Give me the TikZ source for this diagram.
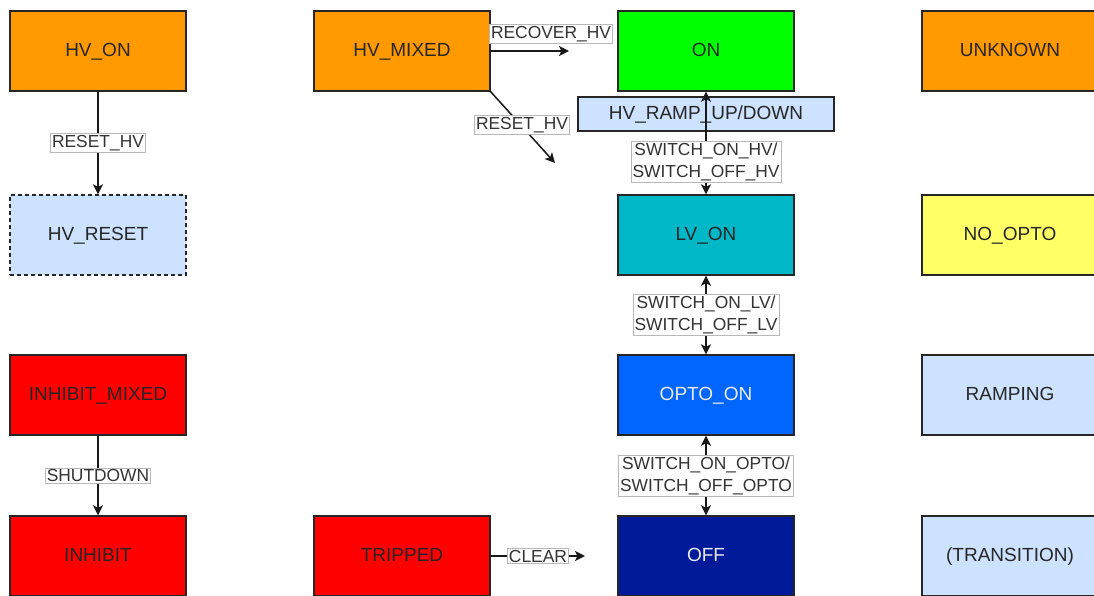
\documentclass[tikz,border=0pt]{standalone}
\usepackage{fontspec}
\setmainfont{Liberation Sans}
\usetikzlibrary{arrows.meta}

\definecolor{stOrange}{HTML}{FF9900}
\definecolor{stGreen}{HTML}{00FF00}
\definecolor{stTeal}{HTML}{00B8C8}
\definecolor{stYellow}{HTML}{FFFF66}
\definecolor{stBlue}{HTML}{0066FF}
\definecolor{stNavy}{HTML}{001A99}
\definecolor{stRed}{HTML}{FF0000}
\definecolor{stPale}{HTML}{CCE2FF}
\definecolor{stEdge}{HTML}{262626}
\definecolor{stLabelLine}{HTML}{B8B8B8}
\definecolor{stLabelText}{HTML}{333333}

\tikzset{
  state/.style={draw=stEdge, line width=1.4pt, minimum width=176pt, minimum height=80pt,
    inner sep=0pt, text height=13.7pt, text depth=2pt,
    font=\fontsize{19}{22}\selectfont, text=black!85},
  darkstate/.style={state, text=white!92!black},
  ramp/.style={draw=stEdge, line width=1.4pt, fill=stPale, minimum width=256pt,
    minimum height=34pt, inner sep=0pt, text height=13.7pt, text depth=2pt,
    font=\fontsize{19}{22}\selectfont, text=black!85},
  trans/.style={line width=1.5pt, draw=black!90, -{Stealth[length=10pt,width=10pt,inset=2.5pt]}},
  biway/.style={line width=1.5pt, draw=black!90,
    {Stealth[length=10pt,width=10pt,inset=2.5pt]}-{Stealth[length=10pt,width=10pt,inset=2.5pt]}},
  evlabel/.style={draw=stLabelLine, line width=0.6pt, fill=white, text=stLabelText,
    inner xsep=1.5pt, inner ysep=1.5pt, align=center, font=\fontsize{17.4}{22}\selectfont}
}

\begin{document}
\begin{tikzpicture}[x=1pt, y=-1pt]
  \useasboundingbox (0,0) rectangle (1094,595);

  % left column
  \node[state, fill=stOrange] (hvon) at (98,51) {HV\_ON};
  \node[state, fill=stPale, dash pattern=on 4pt off 3pt] (hvreset) at (98,235) {HV\_RESET};
  \node[state, fill=stRed] (inhmixed) at (98,395) {INHIBIT\_MIXED};
  \node[state, fill=stRed] (inhibit) at (98,556) {INHIBIT};

  % second column
  \node[state, fill=stOrange] (hvmixed) at (402,51) {HV\_MIXED};
  \node[state, fill=stRed] (tripped) at (402,556) {TRIPPED};

  % main chain
  \node[state, fill=stGreen] (on) at (706,51) {ON};
  \node[state, fill=stTeal] (lvon) at (706,235) {LV\_ON};
  \node[darkstate, fill=stBlue] (optoon) at (706,395) {OPTO\_ON};
  \node[darkstate, fill=stNavy] (off) at (706,556) {OFF};

  % legend column
  \node[state, fill=stOrange] (unknown) at (1010,51) {UNKNOWN};
  \node[state, fill=stYellow] (noopto) at (1010,235) {NO\_OPTO};
  \node[state, fill=stPale] (ramping) at (1010,395) {RAMPING};
  \node[state, fill=stPale] (transition) at (1010,556) {(TRANSITION)};

  % ramp indicator between ON and LV_ON
  \node[ramp] (hvramp) at (706,114) {HV\_RAMP\_UP/DOWN};

  % free ends of the open transitions
  \coordinate (recoverEnd) at (569,51);
  \coordinate (resetEnd) at (555,163);
  \coordinate (clearEnd) at (585,556);

  % transitions
  \draw[trans] (hvon.south) -- (hvreset.north);
  \node[evlabel] (lblResetLeft) at (98,143) {RESET\_HV};

  \draw[trans] (inhmixed.south) -- (inhibit.north);
  \node[evlabel] (lblShutdown) at (98,475.5) {SHUTDOWN};

  \draw[trans] (hvmixed.east) -- (recoverEnd);
  \node[evlabel] (lblRecover) at (551,34) {RECOVER\_HV};

  \draw[trans] (hvmixed.south east) -- (resetEnd);
  \node[evlabel] (lblResetMid) at (522,125) {RESET\_HV};

  \draw[trans] (tripped.east) -- (clearEnd);
  \node[evlabel] (lblClear) at (538,556) {CLEAR};

  \draw[biway] (lvon.north) -- (on.south);
  \node[evlabel] (lblHV) at (706,162) {SWITCH\_ON\_HV/\\SWITCH\_OFF\_HV};

  \draw[biway] (optoon.north) -- (lvon.south);
  \node[evlabel] (lblLV) at (706,315) {SWITCH\_ON\_LV/\\SWITCH\_OFF\_LV};

  \draw[biway] (off.north) -- (optoon.south);
  \node[evlabel] (lblOpto) at (706,475.5) {SWITCH\_ON\_OPTO/\\SWITCH\_OFF\_OPTO};
\end{tikzpicture}
\end{document}
